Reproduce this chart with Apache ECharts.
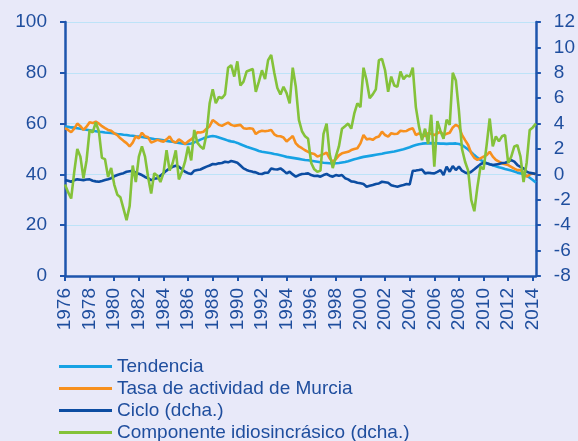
<!DOCTYPE html>
<html>
<head>
<meta charset="utf-8">
<script src="https://cdn.jsdelivr.net/npm/echarts@6/dist/echarts.min.js"></script>
<style>
  html, body { margin: 0; padding: 0; background: #e8e9f9; }
  #chart { width: 578px; height: 441px; }
</style>
</head>
<body>
<div id="chart"></div>
<script>
// Quarterly series, 1976 T1 – 2014 T2
const startYear = 1976;
const quarterCount = 154;

const yearTicks = ['1976','1978','1980','1982','1984','1986','1988','1990','1992','1994',
  '1996','1998','2000','2002','2004','2006','2008','2010','2012','2014'];

const seriesNames = ['Tendencia', 'Tasa de actividad de Murcia', 'Ciclo (dcha.)', 'Componente idiosincrásico (dcha.)'];

// Left axis (%)
const tendencia = [
  58.8, 58.7, 58.5, 58.4, 58.2, 58.0, 57.8, 57.6, 57.4, 57.2,
  57.0, 56.8, 56.7, 56.5, 56.4, 56.3, 56.1, 55.9, 55.8, 55.6,
  55.5, 55.3, 55.2, 55.0, 54.9, 54.7, 54.5, 54.3, 54.1, 53.9,
  53.8, 53.6, 53.4, 53.2, 53.0, 52.9, 52.6, 52.4, 52.2, 52.0,
  52.0, 52.2, 52.6, 53.1, 53.7, 54.2, 54.6, 54.9, 55.1, 54.9,
  54.5, 54.1, 53.7, 53.3, 53.0, 52.8, 52.4, 51.9, 51.4, 50.9,
  50.5, 50.1, 49.7, 49.2, 48.9, 48.7, 48.5, 48.3, 48.0, 47.8,
  47.5, 47.2, 46.9, 46.7, 46.5, 46.3, 46.1, 45.9, 45.7, 45.6,
  45.4, 45.2, 45.0, 44.8, 44.6, 44.5, 44.4, 44.3, 44.4, 44.5,
  44.7, 44.9, 45.2, 45.6, 46.0, 46.3, 46.6, 46.9, 47.1, 47.3,
  47.5, 47.7, 47.9, 48.1, 48.4, 48.6, 48.8, 49.0, 49.3, 49.6,
  49.9, 50.3, 50.7, 51.2, 51.6, 51.9, 52.1, 52.2, 52.2, 52.3,
  52.2, 52.2, 52.1, 52.1, 52.0, 52.1, 52.1, 52.2, 52.0, 51.5,
  50.7, 49.8, 48.7, 47.6, 46.6, 45.7, 45.0, 44.4, 44.0, 43.6,
  43.2, 42.8, 42.5, 42.1, 41.8, 41.5, 41.1, 40.7, 40.4, 40.0,
  39.4, 38.7, 37.8, 36.8
];

const tasaActividad = [
  58.2, 57.5, 56.6, 58.0, 60.0, 59.0, 57.5, 58.8, 60.5, 60.2,
  60.8, 60.0, 59.0, 58.2, 57.5, 57.2, 56.2, 55.5, 54.2, 53.2,
  52.3, 51.0, 52.5, 55.0, 54.2, 56.4, 55.0, 54.6, 52.5, 53.0,
  53.6, 53.2, 52.9, 53.8, 54.9, 53.0, 52.5, 53.8, 53.0, 52.0,
  53.0, 53.8, 54.9, 56.6, 56.5, 56.8, 58.0, 59.0, 61.4, 60.5,
  59.5, 59.1, 59.8, 60.4, 59.5, 59.1, 59.3, 59.5, 58.2, 58.0,
  58.2, 58.0, 55.9, 56.8, 57.2, 57.0, 57.2, 57.5, 55.8, 55.1,
  55.0, 54.5, 53.0, 54.0, 55.1, 52.2, 51.0, 50.3, 49.5, 48.9,
  48.3, 48.0, 47.0, 47.5, 48.0, 48.6, 46.3, 45.0, 46.0, 47.5,
  48.3, 48.6, 48.9, 49.6, 50.0, 50.3, 52.2, 55.5, 53.8, 54.0,
  53.6, 54.5, 54.9, 56.8, 55.5, 54.9, 56.2, 55.9, 56.0, 57.2,
  57.0, 57.1, 57.8, 58.2, 55.5, 56.2, 55.5, 55.1, 56.2, 56.0,
  55.5, 56.2, 56.8, 55.5, 56.0, 56.4, 58.5, 59.5, 58.8, 55.5,
  53.5, 51.6, 48.3, 46.5, 45.7, 46.3, 47.0, 47.6, 48.9, 47.0,
  45.7, 45.0, 44.3, 44.0, 43.7, 43.0, 42.3, 41.7, 41.7, 40.5,
  39.1, 40.0, 40.4, 40.1
];

// Right axis (dcha.)
const ciclo = [
  -0.45, -0.5, -0.58, -0.45, -0.39, -0.42, -0.45, -0.4, -0.39, -0.5,
  -0.55, -0.58, -0.52, -0.45, -0.38, -0.3, -0.15, -0.05, 0.03, 0.1,
  0.21, 0.25, 0.29, 0.12, 0.05, -0.05, -0.2, -0.3, -0.45, -0.35,
  -0.3, -0.1, 0.1, 0.3, 0.47, 0.6, 0.68, 0.6, 0.4, 0.21,
  0.1, 0.03, 0.29, 0.35, 0.39, 0.5, 0.61, 0.7, 0.82, 0.8,
  0.87, 0.9, 1.0, 0.95, 1.05, 1.0, 0.92, 0.7, 0.47, 0.35,
  0.26, 0.2, 0.16, 0.05, 0.03, 0.13, 0.13, 0.47, 0.4, 0.39,
  0.47, 0.3, 0.08, 0.21, 0.0, -0.18, -0.05, 0.03, 0.05, 0.08,
  -0.05, -0.13, -0.1, -0.18, -0.05, 0.03, -0.1, -0.18, -0.05, -0.1,
  -0.05, -0.3, -0.39, -0.55, -0.58, -0.66, -0.7, -0.76, -0.97, -0.9,
  -0.84, -0.75, -0.71, -0.58, -0.62, -0.66, -0.85, -0.92, -0.97, -0.9,
  -0.84, -0.76, -0.8, 0.29, 0.3, 0.34, 0.39, 0.08, 0.13, 0.1,
  0.08, 0.2, 0.34, -0.05, 0.61, 0.21, 0.66, 0.34, 0.61, 0.29,
  0.15, 0.08, 0.21, 0.4, 0.61, 0.8, 0.92, 0.87, 0.8, 0.74,
  0.78, 0.82, 0.9, 0.92, 1.0, 1.13, 1.0, 0.74, 0.6, 0.47,
  0.21, 0.12, 0.08, 0.03
];

const componenteIdiosincrasico = [
  -0.8, -1.4, -1.9, 0.2, 2.0, 1.4, -0.3, 1.1, 3.5, 3.3,
  4.1, 3.4, 1.3, 1.2, -0.2, 0.5, -0.8, -1.6, -1.8, -2.7,
  -3.6, -2.5, 0.7, -0.6, 1.4, 2.2, 1.4, -0.2, -1.5, 0.1,
  -0.1, -0.6, 0.1, 1.9, 0.3, 0.9, 1.9, -0.4, 0.2, 1.0,
  2.2, 1.1, 3.5, 2.5, 2.2, 2.0, 3.2, 5.6, 6.7, 5.6,
  6.1, 6.0, 6.3, 8.4, 8.6, 7.7, 8.9, 7.0, 7.3, 8.1,
  8.2, 8.3, 6.5, 7.3, 8.2, 7.5, 9.0, 9.4, 8.0, 6.8,
  6.3, 6.9, 6.4, 5.6, 8.4, 6.9, 4.3, 3.4, 3.0, 2.8,
  0.9, 0.4, 0.2, 0.3, 3.2, 4.0, 1.6, 0.5, 1.4, 2.2,
  3.6, 3.8, 4.0, 3.6, 4.8, 5.6, 5.3, 8.4, 7.4, 6.0,
  6.3, 6.7, 9.0, 9.1, 8.2, 6.5, 7.7, 7.0, 6.9, 8.1,
  7.5, 7.8, 7.7, 8.4, 5.3, 3.8, 2.7, 3.6, 2.4, 4.7,
  0.6, 4.2, 3.4, 2.8, 4.3, 3.9, 8.0, 7.4, 5.0, 2.0,
  1.0, 0.3, -2.0, -2.9, -1.0, 0.6, 0.4, 2.3, 4.4, 2.2,
  3.0, 2.6, 3.0, 3.1, 0.9, 1.4, 2.2, 2.3, 1.4, -0.6,
  0.9, 3.5, 3.7, 4.0
];

// Quarter categories: "1976T1", "1976T2", ...
const quarters = [];
for (let i = 0; i < quarterCount; i++) {
  quarters.push((startYear + Math.floor(i / 4)) + 'T' + (i % 4 + 1));
}

const textColor = '#1f4e9e';
const axisColor = '#1e55ad';
const fontFamily = '"Liberation Sans", Arial, sans-serif';

const chart = echarts.init(document.getElementById('chart'), null, { renderer: 'canvas' });

const isTickIndex = (index) => index % 8 === 0;

chart.setOption({
  backgroundColor: '#e8e9f9',
  animation: false,
  textStyle: { fontFamily: fontFamily },
  grid: { left: 65, right: 42, top: 22, bottom: 165 },
  legend: {
    orient: 'vertical',
    left: 59,
    top: 357,
    height: 120,
    padding: 0,
    icon: 'rect',
    itemWidth: 53,
    itemHeight: 3,
    itemGap: 3,
    data: seriesNames,
    textStyle: { fontSize: 19, color: textColor, fontFamily: fontFamily, lineHeight: 19 }
  },
  xAxis: {
    type: 'category',
    data: quarters,
    boundaryGap: false,
    axisLine: { lineStyle: { color: axisColor, width: 2.5 } },
    axisTick: { interval: (index) => isTickIndex(index), length: 5, lineStyle: { color: axisColor, width: 2 } },
    axisLabel: {
      interval: (index) => isTickIndex(index),
      rotate: 90,
      margin: 12,
      fontSize: 19,
      color: textColor,
      formatter: (value) => {
        const y = value.slice(0, 4);
        return yearTicks.indexOf(y) >= 0 ? y : '';
      }
    },
    splitLine: { show: false }
  },
  yAxis: [
    {
      type: 'value',
      min: 0, max: 100, interval: 20,
      position: 'left',
      axisLine: { show: true, lineStyle: { color: axisColor, width: 2.5 } },
      axisTick: { show: true, length: 5, lineStyle: { color: axisColor, width: 2 } },
      axisLabel: { fontSize: 19, color: textColor, margin: 18 },
      splitLine: { show: true, lineStyle: { color: '#bde3f8', width: 1 } }
    },
    {
      type: 'value',
      min: -8, max: 12, interval: 2,
      position: 'right',
      axisLine: { show: true, lineStyle: { color: axisColor, width: 2.5 } },
      axisTick: { show: true, length: 5, lineStyle: { color: axisColor, width: 2 } },
      axisLabel: { fontSize: 19, color: textColor, margin: 18 },
      splitLine: { show: false }
    }
  ],
  series: [
    { name: seriesNames[0], type: 'line', yAxisIndex: 0, data: tendencia, showSymbol: false,
      lineStyle: { color: '#17a2e4', width: 2.6 }, itemStyle: { color: '#17a2e4' } },
    { name: seriesNames[1], type: 'line', yAxisIndex: 0, data: tasaActividad, showSymbol: false,
      lineStyle: { color: '#f7901e', width: 2.6 }, itemStyle: { color: '#f7901e' } },
    { name: seriesNames[2], type: 'line', yAxisIndex: 1, data: ciclo, showSymbol: false,
      lineStyle: { color: '#0c4da2', width: 2.6 }, itemStyle: { color: '#0c4da2' } },
    { name: seriesNames[3], type: 'line', yAxisIndex: 1, data: componenteIdiosincrasico, showSymbol: false,
      lineStyle: { color: '#84c23a', width: 2.6 }, itemStyle: { color: '#84c23a' } }
  ]
});
</script>
</body>
</html>
